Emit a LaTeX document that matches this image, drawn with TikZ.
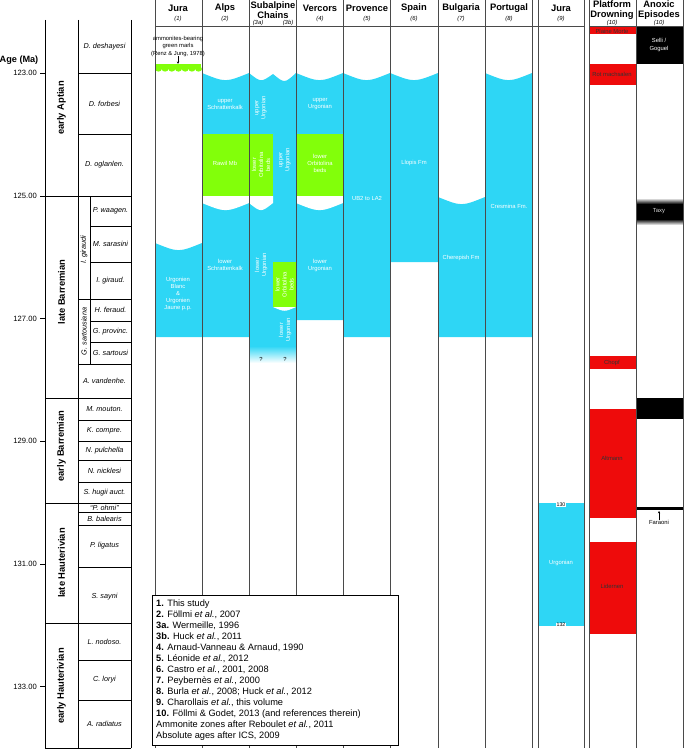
\documentclass[tikz,border=0pt]{standalone}
\usepackage{fontspec}
\setmainfont{Liberation Sans}
\usepackage{xcolor}
\usepackage{tikz}
\usetikzlibrary{arrows.meta,positioning}
\definecolor{urgcol}{HTML}{2ED6F5}
\definecolor{marlcol}{HTML}{82FF0A}
\definecolor{drowncol}{HTML}{EE0B0B}
\definecolor{rulecol}{HTML}{4A4A4A}
\newcommand{\fsz}[2]{\fontsize{#1}{#2}\selectfont}
% Urgonian block with a sagging top: x1, x2, top, bottom
\newcommand{\urgblock}[4]{\fill[urgcol] (#1,#3) .. controls ({(#1+#2)/2},{#3+9.5}) .. (#2,#3) -- (#2,#4) -- (#1,#4) -- cycle;}
% white notch below an Orbitolina bed: x1, x2, top
\newcommand{\bednotch}[3]{\fill[white] (#1,#3) -- (#2,#3) -- (#2,{#3+7}) .. controls ({(#1+#2)/2},{#3+16.5}) .. (#1,{#3+7}) -- cycle;}

\begin{document}
\begin{tikzpicture}[x=0.3mm,y=-0.3mm,
  colhead/.style={font=\bfseries\fsz{8}{8.6},align=center,inner sep=0pt},
  colnum/.style={font=\itshape\fsz{5}{5},inner sep=0pt},
  zone/.style={font=\itshape\fsz{6.2}{7},inner sep=0pt},
  stage/.style={font=\bfseries\fsz{8}{9},rotate=90,inner sep=0pt},
  agetick/.style={font=\fsz{6.5}{7},anchor=east,inner sep=0pt},
  fmlab/.style={text=white,font=\fsz{5}{6},align=center,inner sep=0pt},
  vlab/.style={fmlab,rotate=90},
  evlab/.style={font=\fsz{5}{6.4},align=center,inner sep=0pt},
  agetag/.style={font=\fsz{4.5}{5},fill=white,inner sep=0.4pt},
  colrule/.style={draw=rulecol,line width=0.7pt},
  tabrule/.style={draw=black,line width=0.7pt},
]
\useasboundingbox (0,0) rectangle (685,750);

% Urgonian platform carbonates
\urgblock{155}{202}{243}{337}
\urgblock{202}{249}{73}{337}
\fill[urgcol] (249,73) .. controls (261,82.5) .. (273,74)
  .. controls (284.5,83.5) .. (296,73) -- (296,346) -- (249,346) -- cycle;
\shade[top color=urgcol,bottom color=white] (249,346) rectangle (296,363);
\urgblock{296}{343}{73}{320}
\urgblock{343}{390}{73}{337}
\urgblock{390}{438}{73}{262}
\urgblock{438}{485}{197}{337}
\urgblock{485}{532}{73}{337}
\fill[urgcol] (538,503) rectangle (584,626);

% Orbitolina beds and Rawil Mb
\fill[marlcol] (202,134) rectangle (249,196);
\fill[marlcol] (249,134) rectangle (273,196);
\fill[marlcol] (296,134) rectangle (343,196);
\fill[marlcol] (273,262) rectangle (296,307);
\bednotch{202}{249}{196}
\bednotch{249}{273}{196}
\bednotch{296}{343}{196}
\fill[white] (273,307) -- (296,307) .. controls (284.5,312) .. (273,307) -- cycle;

% green marls, Jura
\fill[marlcol] (156,64) rectangle (201,69);
\foreach \i in {0,...,6}
  \fill[marlcol] ({158.4+\i*6.7},69) ellipse [x radius=3.4, y radius=2.6];

% drowning events
\fill[drowncol] (589,27) rectangle (636,34);
\fill[drowncol] (589,64) rectangle (636,85);
\fill[drowncol] (589,356) rectangle (636,369);
\fill[drowncol] (589,409) rectangle (636,518);
\fill[drowncol] (589,542) rectangle (636,634);

% anoxic episodes
\fill[black] (636,27) rectangle (683,64);
\shade[top color=white,bottom color=black] (636,198) rectangle (683,204);
\fill[black] (636,204) rectangle (683,219);
\shade[top color=black,bottom color=white] (636,219) rectangle (683,225);
\fill[black] (636,398) rectangle (683,419);
\fill[black] (636,507) rectangle (683,510);

% column rules
\foreach \x in {155,202,249,296,343,390,438,485,532,538,584,589,636,683}
  \draw[colrule] (\x,0) -- (\x,748);
\draw[colrule] (155,26) -- (584,26);
\draw[colrule] (589,26) -- (683,26);

% stratigraphic table
\foreach \x in {45,78,131}
  \draw[tabrule] (\x,20) -- (\x,748);
\draw[tabrule] (90,196) -- (90,364);
\foreach \y in {196,398,503,623,748}
  \draw[tabrule] (45,\y) -- (131,\y);
\foreach \y in {73,134,299,364,420,441,460,482,512,525,567,660,700}
  \draw[tabrule] (78,\y) -- (131,\y);
\foreach \y in {226,262,321,342}
  \draw[tabrule] (90,\y) -- (131,\y);

% age axis
\node[font=\bfseries\fsz{7.8}{8},inner sep=0pt] (agehead) at (19,60) {Age (Ma)};
\foreach \a/\y [count=\i] in {123.00/73.3,125.00/196,127.00/318.5,129.00/441,131.00/564,133.00/686.7}{
  \draw[tabrule] (40,\y) -- (45,\y);
  \node[agetick] (age\i) at (37,\y) {\a};
}

% stages
\node[stage] (st1) at (61.5,108) {early Aptian};
\node[stage] (st2) at (61.5,292) {late Barremian};
\node[stage] (st3) at (61.5,446) {early Barremian};
\node[stage] (st4) at (61.5,563) {late Hauterivian};
\node[stage] (st5) at (61.5,686) {early Hauterivian};

% ammonite zones
\foreach \y/\t [count=\i] in {46.5/D. deshayesi,103.5/D. forbesi,165/D. oglanlen.,
    381/A. vandenhe.,409/M. mouton.,430.5/K. compre.,450.5/N. pulchella,
    471/N. nicklesi,492.5/S. hugii auct.,507.5/“P. ohmi”,518.5/B. balearis,
    546/P. ligatus,597/S. sayni,641.5/L. nodoso.,680/C. loryi,724/A. radiatus}
  \node[zone] (zone\i) at (104.5,\y) {\t};
\foreach \y/\t [count=\i] in {211/P. waagen.,244/M. sarasini,280.5/I. giraud.,
    310/H. feraud.,331.5/G. provinc.,353/G. sartousi}
  \node[zone] (szone\i) at (110.5,\y) {\t};
\node[zone,rotate=90] (sub1) at (84,250) {I. giraudi};
\node[zone,rotate=90] (sub2) at (84,331.5) {G. sartousiana};

% column heads
\node[colhead] (h1) at (178,8) {Jura};
\node[colnum] (n1) at (178,19) {(1)};
\node[colhead] (h2) at (225,8) {Alps};
\node[colnum] (n2) at (225,19) {(2)};
\node[colhead] (h3) at (273,10) {Subalpine\\Chains};
\node[colnum] (n3a) at (258,23) {(3a)};
\node[colnum] (n3b) at (288,23) {(3b)};
\node[colhead] (h4) at (320,8) {Vercors};
\node[colnum] (n4) at (320,19) {(4)};
\node[colhead] (h5) at (367,8) {Provence};
\node[colnum] (n5) at (367,19) {(5)};
\node[colhead] (h6) at (414,8) {Spain};
\node[colnum] (n6) at (414,19) {(6)};
\node[colhead] (h7) at (461,8) {Bulgaria};
\node[colnum] (n7) at (461,19) {(7)};
\node[colhead] (h8) at (509,8) {Portugal};
\node[colnum] (n8) at (509,19) {(8)};
\node[colhead] (h9) at (561,8) {Jura};
\node[colnum] (n9) at (561,19) {(9)};
\node[colhead] (h10) at (612,10) {Platform\\Drowning};
\node[colnum] (n10) at (612,23) {(10)};
\node[colhead] (h11) at (659,10) {Anoxic\\Episodes};
\node[colnum] (n11) at (659,23) {(10)};

% Jura (1)
\node[evlab] (marlnote) at (178,46) {ammonites-bearing\\green marls\\(Renz \& Jung, 1978)};
\coordinate (marltop) at (178,64);
\draw[-{Stealth[length=2.2pt,width=2pt]},line width=0.4pt] (marlnote) -- (marltop);
\node[fmlab] (urgjura) at (178,294) {Urgonien\\Blanc\\\&\\Urgonien\\Jaune p.p.};

% Alps
\node[fmlab] (alpsup) at (225,104) {upper\\Schrattenkalk};
\node[fmlab] (rawil) at (225,163) {Rawil Mb};
\node[fmlab] (alpslow) at (225,265) {lower\\Schrattenkalk};

% Subalpine Chains
\node[vlab] (saup) at (261,108) {upper\\Urgonian};
\node[vlab] (saorb) at (261,165) {lower\\Orbitolina\\beds};
\node[vlab] (salow) at (261,265) {lower\\Urgonian};
\node[vlab] (sbup) at (285,160) {upper\\Urgonian};
\node[vlab] (sborb) at (284.5,284.5) {lower\\Orbitolina\\beds};
\node[vlab] (sblow) at (285,330) {lower\\Urgonian};
\node[evlab] (qa) at (261,359) {?};
\node[evlab] (qb) at (285,359) {?};

% Vercors
\node[fmlab] (verup) at (320,104) {upper\\Urgonian};
\node[fmlab] (verorb) at (320,163) {lower\\Orbitolina\\beds};
\node[fmlab] (verlow) at (320,265) {lower\\Urgonian};

% Provence to Portugal
\node[fmlab] (prov) at (367,198) {UB2 to LA2};
\node[fmlab] (spain) at (414,163) {Llopis Fm};
\node[fmlab] (bulg) at (461,258) {Cherepish Fm};
\node[fmlab] (port) at (509,206) {Cresmina Fm.};

% Jura (9)
\node[fmlab] (urgjura9) at (561,563) {Urgonian};
\node[agetag] (tag130) at (561,504.5) {130};
\node[agetag] (tag132) at (561,625) {132};

% drowning and anoxia labels
\node[evlab,text=black!80] (plaine) at (612,31) {Plaine Morte};
\node[evlab,text=black!80] (rotmach) at (612,74) {Rot machsalen};
\node[evlab,text=black!80] (chopf) at (612,363) {Chopf};
\node[evlab,text=black!80] (altmann) at (612,458) {Altmann};
\node[evlab,text=black!80] (lidernen) at (612,586) {Lidernen};
\node[evlab,text=white] (selli) at (659,45) {Selli /\\Goguel};
\node[evlab,text=white!85!black] (taxy) at (659,211) {Taxy};
\node[evlab] (faraoni) at (659,522) {Faraoni};
\coordinate (faraline) at (659,511);
\draw[-{Stealth[length=2pt,width=2pt]},line width=0.4pt] (faraoni.north) -- (faraline);

% references
\draw[tabrule,fill=white] (152,595) rectangle (398,745);
\node[anchor=north west,align=left,inner sep=0pt,font=\fsz{7.9}{9.35}] (refs) at (156,600)
  {\textbf{1.} This study\\
   \textbf{2.} Föllmi \emph{et al.}, 2007\\
   \textbf{3a.} Wermeille, 1996\\
   \textbf{3b.} Huck \emph{et al.}, 2011\\
   \textbf{4.} Arnaud-Vanneau \& Arnaud, 1990\\
   \textbf{5.} Léonide \emph{et al.}, 2012\\
   \textbf{6.} Castro \emph{et al.}, 2001, 2008\\
   \textbf{7.} Peybernès \emph{et al.}, 2000\\
   \textbf{8.} Burla \emph{et al.}, 2008; Huck \emph{et al.}, 2012\\
   \textbf{9.} Charollais \emph{et al.}, this volume\\
   \textbf{10.} Föllmi \& Godet, 2013 (and references therein)\\
   Ammonite zones after Reboulet \emph{et al.}, 2011\\
   Absolute ages after ICS, 2009};
\end{tikzpicture}
\end{document}
